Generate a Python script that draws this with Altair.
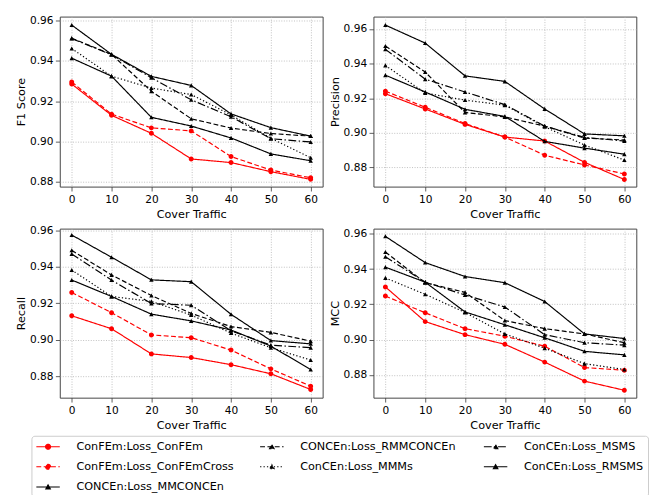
import altair as alt
import pandas as pd

cover_traffic = [0, 10, 20, 30, 40, 50, 60]

series_names = [
    "ConFEm:Loss_ConFEm",
    "ConFEm:Loss_ConFEmCross",
    "CONCEn:Loss_MMCONCEn",
    "CONCEn:Loss_RMMCONCEn",
    "ConCEn:Loss_MMMs",
    "ConCEn:Loss_MSMS",
    "ConCEn:Loss_RMSMS",
]

# values per series, in the order of series_names
f1_values = [
    [0.9285, 0.9130, 0.9041, 0.8914, 0.8896, 0.8851, 0.8813],
    [0.9295, 0.9136, 0.9068, 0.9053, 0.8926, 0.8859, 0.8821],
    [0.9577, 0.9432, 0.9323, 0.9278, 0.9137, 0.9069, 0.9027],
    [0.9512, 0.9432, 0.9249, 0.9113, 0.9067, 0.9040, 0.9027],
    [0.9461, 0.9324, 0.9265, 0.9233, 0.9132, 0.9016, 0.8920],
    [0.9510, 0.9430, 0.9316, 0.9207, 0.9123, 0.9014, 0.8998],
    [0.9413, 0.9324, 0.9120, 0.9077, 0.9018, 0.8939, 0.8905],
]
precision_values = [
    [0.9226, 0.9138, 0.9049, 0.8976, 0.8953, 0.8830, 0.8731],
    [0.9241, 0.9148, 0.9054, 0.8976, 0.8871, 0.8815, 0.8763],
    [0.9622, 0.9518, 0.9329, 0.9297, 0.9138, 0.8994, 0.8983],
    [0.9501, 0.9351, 0.9118, 0.9092, 0.9039, 0.8970, 0.8959],
    [0.9389, 0.9230, 0.9189, 0.9160, 0.9035, 0.8930, 0.8843],
    [0.9482, 0.9310, 0.9236, 0.9163, 0.9039, 0.8974, 0.8953],
    [0.9333, 0.9236, 0.9136, 0.9095, 0.8951, 0.8912, 0.8877],
]
recall_values = [
    [0.9131, 0.9060, 0.8922, 0.8902, 0.8863, 0.8813, 0.8727],
    [0.9259, 0.9148, 0.9026, 0.9011, 0.8943, 0.8840, 0.8745],
    [0.9574, 0.9452, 0.9328, 0.9318, 0.9139, 0.8995, 0.8977],
    [0.9490, 0.9355, 0.9242, 0.9144, 0.9072, 0.9040, 0.8992],
    [0.9382, 0.9237, 0.9210, 0.9135, 0.9036, 0.8956, 0.8888],
    [0.9470, 0.9327, 0.9198, 0.9189, 0.9049, 0.8970, 0.8956],
    [0.9327, 0.9237, 0.9140, 0.9103, 0.9053, 0.8965, 0.8836],
]
mcc_values = [
    [0.9299, 0.9102, 0.9028, 0.8973, 0.8872, 0.8764, 0.8712],
    [0.9247, 0.9152, 0.9062, 0.9019, 0.8962, 0.8841, 0.8826],
    [0.9586, 0.9437, 0.9358, 0.9323, 0.9216, 0.9032, 0.9006],
    [0.9497, 0.9323, 0.9268, 0.9108, 0.9062, 0.9032, 0.8982],
    [0.9350, 0.9257, 0.9154, 0.9032, 0.8951, 0.8863, 0.8830],
    [0.9470, 0.9326, 0.9253, 0.9185, 0.9028, 0.8982, 0.8968],
    [0.9411, 0.9326, 0.9157, 0.9084, 0.9010, 0.8933, 0.8913],
]

y_ticks = [0.88, 0.90, 0.92, 0.94, 0.96]

# ---- styles -------------------------------------------------------------
series_colors = ["#ff0000", "#ff0000", "#000000", "#000000", "#000000", "#000000", "#000000"]
series_dashes = [[1, 0], [5, 2.5], [1, 0], [5, 2.5], [1.3, 2.2], [8, 2.5, 1.5, 2.5], [1, 0]]
# symbol = short line (only visible when stroked, i.e. in the legend) + marker
SEGMENT = "M-2,0H2"
CIRCLE = SEGMENT + "M-0.42,0A0.42,0.42,0,1,0,0.42,0A0.42,0.42,0,1,0,-0.42,0Z"
TRIANGLE = SEGMENT + "M0,-0.36L0.38,0.34L-0.38,0.34Z"
series_markers = [CIRCLE, CIRCLE, TRIANGLE, TRIANGLE, TRIANGLE, TRIANGLE, TRIANGLE]

# order of legend entries so that Vega's grid shows matplotlib's column-wise layout
legend_order = [0, 1, 6, 3, 4, 2, 5]
dom = [series_names[i] for i in legend_order]
col_rng = [series_colors[i] for i in legend_order]
dash_rng = [series_dashes[i] for i in legend_order]
shape_rng = [series_markers[i] for i in legend_order]

rows = []
for metric, table in [("F1", f1_values), ("Precision", precision_values),
                      ("Recall", recall_values), ("MCC", mcc_values)]:
    for s, vals in zip(series_names, table):
        for x, v in zip(cover_traffic, vals):
            rows.append({"Metric": metric, "Series": s, "Cover": x, "Value": v})
df = pd.DataFrame(rows)

legend = alt.Legend(
    orient="none", legendX=-29, legendY=429, columns=3, gridAlign="all",
    columnPadding=23, rowPadding=7.7, labelFont="DejaVu Sans",
    labelFontSize=11.5, labelOffset=22, symbolSize=144, symbolOffset=6,
    padding=4, title=None, labelLimit=0, labelColor="black",
    strokeColor="#cccccc", fillColor="white", cornerRadius=3,
    symbolStrokeWidth=1.2, symbolOpacity=1,
    symbolFillColor="black", symbolStrokeColor="black",
)

fill_scale = alt.Scale(domain=dom, range=col_rng)
stroke_scale = alt.Scale(domain=dom, range=col_rng)
dash_scale = alt.Scale(domain=dom, range=dash_rng)
shape_scale = alt.Scale(domain=dom, range=shape_rng)


def panel(metric, ytitle, ydomain, h):
    base = alt.Chart(df).transform_filter(alt.datum.Metric == metric)
    x = alt.X("Cover:Q",
              scale=alt.Scale(domain=[-3, 63], nice=False, zero=False),
              axis=alt.Axis(values=cover_traffic, format="d", title="Cover Traffic"))
    y = alt.Y("Value:Q",
              scale=alt.Scale(domain=ydomain, nice=False, zero=False),
              axis=alt.Axis(values=y_ticks, format=".2f", title=ytitle))
    layers = []
    for s, c, d, m in zip(series_names, series_colors, series_dashes, series_markers):
        sub = base.transform_filter(alt.datum.Series == s)
        layers.append(sub.mark_line(color=c, strokeDash=d, strokeWidth=1.2).encode(x=x, y=y))
        layers.append(sub.mark_point(filled=True, color=c, shape=m, size=144,
                                     opacity=1).encode(x=x, y=y))
    # legend-only layer (no rows survive the filter): line + marker symbols
    key = alt.Chart(df).transform_filter(alt.datum.Metric == "none").mark_point(
        filled=True, opacity=1, size=144, strokeWidth=1.2
    ).encode(
        x=x, y=y,
        fill=alt.Fill("Series:N", scale=fill_scale, legend=legend),
        stroke=alt.Stroke("Series:N", scale=stroke_scale, legend=legend),
        shape=alt.Shape("Series:N", scale=shape_scale, legend=legend),
        strokeDash=alt.StrokeDash("Series:N", scale=dash_scale, legend=legend),
    )
    return alt.layer(key, *layers).properties(width=269, height=h)


p1 = panel("F1", "F1 Score", [0.8777, 0.9619], 174)
p2 = panel("Precision", "Precision", [0.869, 0.9671], 174)
p3 = panel("Recall", "Recall", [0.8682, 0.9609], 173)
p4 = panel("MCC", "MCC", [0.867, 0.963], 173)

chart = alt.concat(p1, p2, p3, p4, columns=2,
                   spacing=alt.RowColnumber(row=43, column=52)).properties(
    bounds="flush",
    padding={"top": 0, "left": 7, "right": 0, "bottom": 0},
).resolve_scale(
    strokeDash="shared", fill="shared", shape="shared", stroke="shared"
).configure(font="DejaVu Sans").configure_view(
    stroke="#444444", strokeWidth=1
).configure_axis(
    domain=False, grid=True, gridColor="#b0b0b0", gridDash=[1, 1.6], gridWidth=0.8,
    tickColor="#333333", tickSize=4.5, tickWidth=0.8, labelFlush=False,
    labelFont="DejaVu Sans", labelFontSize=10.8, labelColor="black",
    titleFont="DejaVu Sans", titleFontSize=11.5, titleFontWeight="normal",
    titleColor="black",
).configure_axisX(
    labelPadding=2.5, titlePadding=5
).configure_axisY(
    labelPadding=2.5, titlePadding=3
)

chart.save("out.html", embed_options={"renderer": "svg", "actions": False})
